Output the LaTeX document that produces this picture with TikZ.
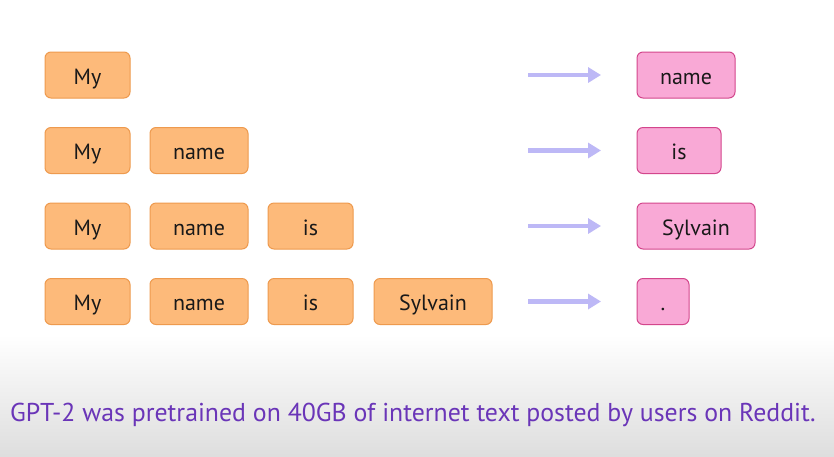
\documentclass[tikz,border=0pt]{standalone}
\usepackage{fontspec}
\setmainfont{PT Sans}
\usetikzlibrary{arrows.meta}
\definecolor{ofill}{HTML}{FDBA7A}
\definecolor{oline}{HTML}{EE9A4E}
\definecolor{pfill}{HTML}{F9A9D6}
\definecolor{pline}{HTML}{D3468C}
\definecolor{arrc}{HTML}{BDB8F6}
\definecolor{txtp}{HTML}{6A35B8}
\tikzset{
  wbox/.style={rounded corners=6pt, line width=1pt, minimum height=46pt, inner sep=0pt, text height=20pt, text depth=2pt, font=\fontsize{22}{26}\selectfont, text=black!90},
  obox/.style={wbox, draw=oline, fill=ofill},
  pbox/.style={wbox, draw=pline, fill=pfill},
  arr/.style={draw=arrc, line width=4.5pt, -{Triangle[length=13pt,width=15pt]}}
}
\begin{document}
\begin{tikzpicture}[x=1pt,y=-1pt]
\useasboundingbox (0,0) rectangle (834,456);
\fill[white] (0,0) rectangle (834,336);
\shade[top color=white, bottom color=black!13] (0,335) rectangle (834,456);
% row 1
\node[obox, minimum width=85pt] (r1a) at (87.5,75) {My};
\coordinate (a1s) at (528,75); \coordinate (a1e) at (601,75);
\draw[arr] (a1s) -- (a1e);
\node[pbox, minimum width=98pt] (o1) at (686,75) {name};
% row 2
\node[obox, minimum width=85pt] (r2a) at (87.5,150.5) {My};
\node[obox, minimum width=98pt] (r2b) at (199,150.5) {name};
\coordinate (a2s) at (528,150.5); \coordinate (a2e) at (601,150.5);
\draw[arr] (a2s) -- (a2e);
\node[pbox, minimum width=84pt] (o2) at (679,150.5) {is};
% row 3
\node[obox, minimum width=85pt] (r3a) at (87.5,226) {My};
\node[obox, minimum width=98pt] (r3b) at (199,226) {name};
\node[obox, minimum width=85pt] (r3c) at (310.5,226) {is};
\coordinate (a3s) at (528,226); \coordinate (a3e) at (601,226);
\draw[arr] (a3s) -- (a3e);
\node[pbox, minimum width=118pt] (o3) at (696,226) {Sylvain};
% row 4
\node[obox, minimum width=85pt] (r4a) at (87.5,301.5) {My};
\node[obox, minimum width=98pt] (r4b) at (199,301.5) {name};
\node[obox, minimum width=85pt] (r4c) at (310.5,301.5) {is};
\node[obox, minimum width=118pt] (r4d) at (433,301.5) {Sylvain};
\coordinate (a4s) at (528,301.5); \coordinate (a4e) at (601,301.5);
\draw[arr] (a4s) -- (a4e);
\node[pbox, minimum width=52pt] (o4) at (663,301.5) {.};
% caption
\node[text=txtp, font=\fontsize{25.8}{30}\selectfont, anchor=west, inner sep=0pt] (cap) at (10,415) {GPT-2 was pretrained on 40GB of internet text posted by users on Reddit.};
\end{tikzpicture}
\end{document}
